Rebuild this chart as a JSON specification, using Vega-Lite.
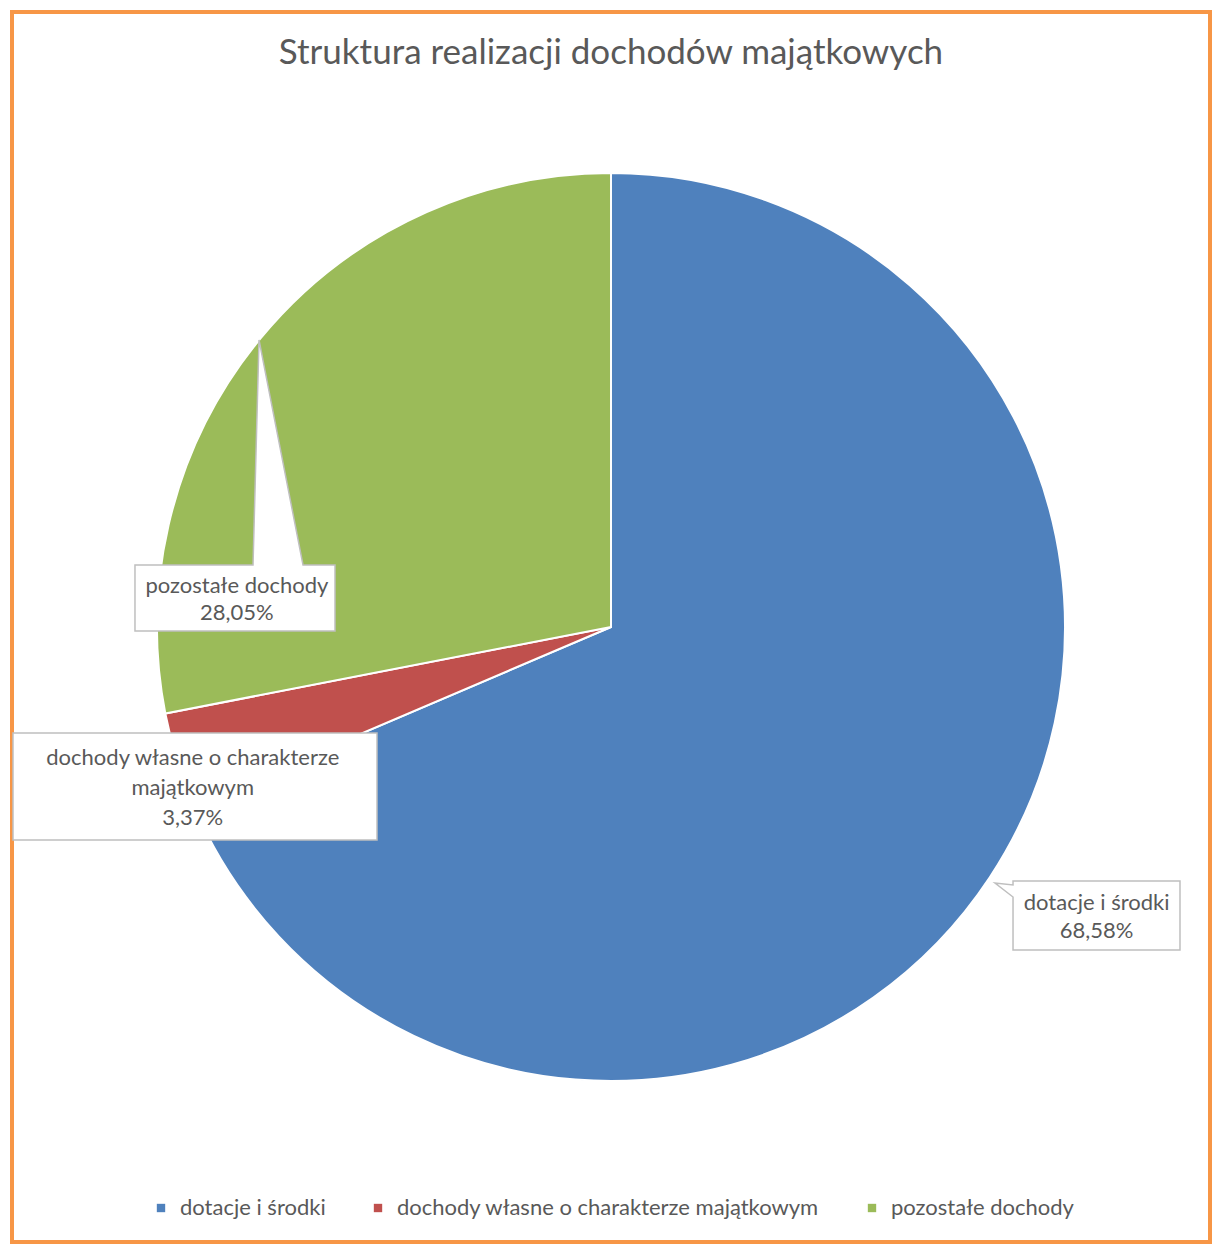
{
  "$schema": "https://vega.github.io/schema/vega-lite/v6.json",
  "width": 1218,
  "height": 1246,
  "autosize": {"type": "fit", "contains": "padding"},
  "padding": {"left": 10, "top": 10, "right": 6, "bottom": 2},
  "background": "white",
  "title": {
    "text": "Struktura realizacji dochodów majątkowych",
    "font": "Lato",
    "fontSize": 35,
    "fontWeight": "normal",
    "color": "#595959",
    "anchor": "middle",
    "baseline": "alphabetic",
    "offset": -89
  },
  "data": {
    "values": [
      {"nr": 1, "category": "dotacje i środki", "value": 0.6858, "label": "dotacje i środki"},
      {"nr": 2, "category": "dochody własne o charakterze majątkowym", "value": 0.0337, "label": "dochody własne o charakterze\nmajątkowym"},
      {"nr": 3, "category": "pozostałe dochody", "value": 0.2805, "label": "pozostałe dochody"}
    ]
  },
  "layer": [
    {
      "data": {"values": [{"frame": "border"}]},
      "mark": {"type": "rect", "fill": "white", "fillOpacity": 0, "stroke": "#F79646", "strokeWidth": 4},
      "encoding": {}
    },
    {
      "mark": {"type": "arc", "outerRadius": 454, "stroke": "white", "strokeWidth": 2},
      "encoding": {
        "theta": {"field": "value", "type": "quantitative", "stack": true},
        "order": {"field": "nr", "type": "quantitative"},
        "color": {
          "field": "category",
          "type": "nominal",
          "scale": {
            "domain": ["dotacje i środki", "dochody własne o charakterze majątkowym", "pozostałe dochody"],
            "range": ["#4F81BD", "#C0504D", "#9BBB59"]
          },
          "legend": {"title": null}
        }
      }
    },
    {
      "mark": {"type": "point", "filled": true, "fill": "white", "stroke": "#BFBFBF", "strokeWidth": 1.5, "opacity": 1, "size": 824464},
      "encoding": {
        "shape": {
          "field": "nr",
          "type": "nominal",
          "scale": {
            "domain": [1, 2, 3],
            "range": [
              "M0.8855,0.5595L1.2533,0.5595L1.2533,0.7115L0.8855,0.7115L0.8855,0.5947L0.8458,0.5639L0.8855,0.5683Z",
              "M-1.3172,0.2335L-0.5154,0.2335L-0.5154,0.4692L-1.3172,0.4692Z",
              "M-1.0485,-0.1366L-0.7885,-0.1366L-0.7753,-0.6322L-0.6784,-0.1366L-0.6079,-0.1366L-0.6079,0.0088L-1.0485,0.0088Z"
            ]
          },
          "legend": null
        }
      }
    },
    {
      "mark": {"type": "text", "radius": 564, "dx": 15, "dy": -28, "align": "center", "baseline": "alphabetic", "font": "Lato", "fontSize": 22, "fill": "#595959", "lineBreak": "\n", "lineHeight": 30},
      "encoding": {
        "theta": {"field": "value", "type": "quantitative", "stack": true},
        "order": {"field": "nr", "type": "quantitative"},
        "detail": {"field": "category", "type": "nominal"},
        "text": {"condition": {"test": "datum.nr === 1", "field": "label", "type": "nominal"}, "value": ""}
      }
    },
    {
      "mark": {"type": "text", "radius": 564, "dx": 15, "dy": 0, "align": "center", "baseline": "alphabetic", "font": "Lato", "fontSize": 22, "fill": "#595959"},
      "encoding": {
        "theta": {"field": "value", "type": "quantitative", "stack": true},
        "order": {"field": "nr", "type": "quantitative"},
        "detail": {"field": "category", "type": "nominal"},
        "text": {"condition": {"test": "datum.nr === 1", "field": "value", "type": "quantitative", "format": ".2%"}, "value": ""}
      }
    },
    {
      "mark": {"type": "text", "radius": 450, "dx": 12, "dy": 6, "align": "center", "baseline": "alphabetic", "font": "Lato", "fontSize": 22, "fill": "#595959", "lineBreak": "\n", "lineHeight": 30},
      "encoding": {
        "theta": {"field": "value", "type": "quantitative", "stack": true},
        "order": {"field": "nr", "type": "quantitative"},
        "detail": {"field": "category", "type": "nominal"},
        "text": {"condition": {"test": "datum.nr === 2", "field": "label", "type": "nominal"}, "value": ""}
      }
    },
    {
      "mark": {"type": "text", "radius": 450, "dx": 12, "dy": 66, "align": "center", "baseline": "alphabetic", "font": "Lato", "fontSize": 22, "fill": "#595959"},
      "encoding": {
        "theta": {"field": "value", "type": "quantitative", "stack": true},
        "order": {"field": "nr", "type": "quantitative"},
        "detail": {"field": "category", "type": "nominal"},
        "text": {"condition": {"test": "datum.nr === 2", "field": "value", "type": "quantitative", "format": ".2%"}, "value": ""}
      }
    },
    {
      "mark": {"type": "text", "radius": 376, "dx": -84, "dy": 205, "align": "center", "baseline": "alphabetic", "font": "Lato", "fontSize": 22, "fill": "#595959", "lineBreak": "\n", "lineHeight": 30},
      "encoding": {
        "theta": {"field": "value", "type": "quantitative", "stack": true},
        "order": {"field": "nr", "type": "quantitative"},
        "detail": {"field": "category", "type": "nominal"},
        "text": {"condition": {"test": "datum.nr === 3", "field": "label", "type": "nominal"}, "value": ""}
      }
    },
    {
      "mark": {"type": "text", "radius": 376, "dx": -84, "dy": 232, "align": "center", "baseline": "alphabetic", "font": "Lato", "fontSize": 22, "fill": "#595959"},
      "encoding": {
        "theta": {"field": "value", "type": "quantitative", "stack": true},
        "order": {"field": "nr", "type": "quantitative"},
        "detail": {"field": "category", "type": "nominal"},
        "text": {"condition": {"test": "datum.nr === 3", "field": "value", "type": "quantitative", "format": ".2%"}, "value": ""}
      }
    }
  ],
  "config": {
    "view": {"stroke": null},
    "locale": {
      "number": {"decimal": ",", "thousands": " ", "grouping": [3], "currency": ["", " zł"]}
    },
    "legend": {
      "orient": "none",
      "legendX": 138,
      "legendY": 1185,
      "direction": "horizontal",
      "symbolType": "square",
      "symbolSize": 70,
      "symbolStrokeWidth": 0,
      "labelFont": "Lato",
      "labelFontSize": 22,
      "labelColor": "#595959",
      "labelOffset": 8,
      "columnPadding": 41,
      "labelLimit": 600
    }
  }
}
